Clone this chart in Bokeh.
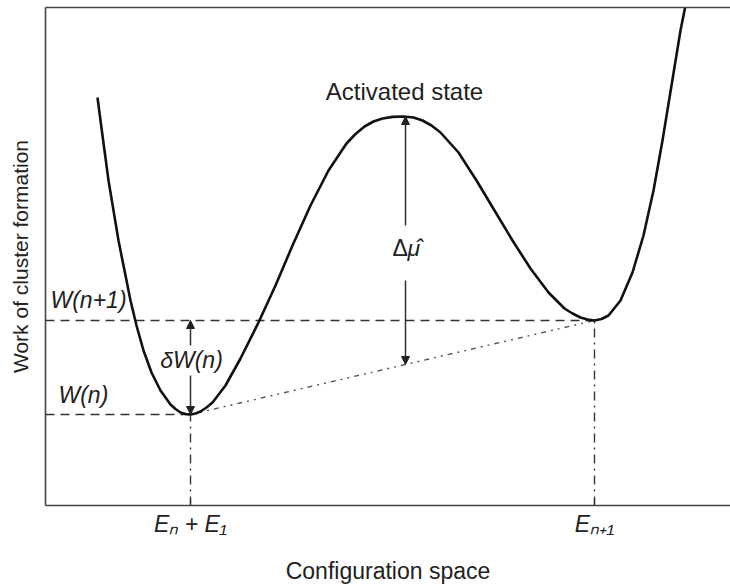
from bokeh.plotting import figure
from bokeh.models import (Arrow, NormalHead, Label, LinearAxis, FixedTicker,
                          Range1d, ColumnDataSource)
from bokeh.embed import file_html
from bokeh.resources import INLINE

# ---- data (arbitrary units) ----
config_x = [52, 55, 59, 63, 68, 73, 79, 85, 91, 98, 106, 115, 125, 130, 135, 140,
            145, 150, 155, 161, 167, 180, 195, 213, 230, 247, 265, 283, 301, 310,
            319, 328, 337, 347, 358, 368, 377, 386, 395, 413, 431, 449, 467, 485,
            503, 519, 527, 535, 542, 549, 556, 563, 575, 587, 598, 608, 617, 626,
            635, 641]
work_y = [408, 385, 355, 325, 295, 265, 235, 205, 180, 155, 133, 115, 101, 96.5, 93,
          91.5, 91, 92, 94, 98, 103, 120, 147, 183, 220, 260, 300, 335, 362, 371.5,
          379, 384, 387, 388.6, 389, 388, 385, 380, 373, 353, 325, 295, 265, 237,
          213, 197, 192, 188, 186, 185, 186.5, 190, 205, 233, 270, 315, 365, 420,
          475, 505]

E_n1_x = 145      # position of first minimum (E_n + E_1)
W_n = 91          # W(n)
E_n2_x = 549      # position of second minimum (E_{n+1})
W_n1 = 185        # W(n+1)
peak_x = 360      # activated state position
peak_y = 389
x_max = 685
y_max = 498
tick_labels = {E_n1_x: "Eₙ + E₁", E_n2_x: "Eₙ₊₁"}

FONT = "Liberation Sans"

p = figure(width=730, height=588, output_backend="svg", toolbar_location=None,
           x_range=Range1d(0, x_max), y_range=Range1d(0, y_max),
           x_axis_type=None, y_axis_type=None,
           min_border_left=45, min_border_right=0, min_border_top=7,
           min_border_bottom=83)
p.outline_line_color = None
p.grid.visible = False
p.background_fill_color = "white"
p.border_fill_color = "white"

# axes
xaxis = LinearAxis(ticker=FixedTicker(ticks=[E_n1_x, E_n2_x]),
                   major_label_overrides=tick_labels,
                   major_tick_in=7, major_tick_out=0,
                   major_label_text_font=FONT,
                   major_label_text_font_size="23px",
                   major_label_text_font_style="italic",
                   major_label_text_color="#222222",
                   major_label_standoff=5,
                   minor_tick_line_color=None,
                   axis_line_color="#444444", axis_line_width=1.6,
                   major_tick_line_color="#333333", major_tick_line_width=1.3,
                   axis_label="Configuration space",
                   axis_label_text_font=FONT, axis_label_text_font_size="23px",
                   axis_label_text_font_style="normal",
                   axis_label_text_color="#222222",
                   axis_label_standoff=18)
p.add_layout(xaxis, "below")

yaxis = LinearAxis(ticker=FixedTicker(ticks=[]),
                   major_label_text_font_size="0px", major_label_standoff=0,
                   major_tick_line_color=None, minor_tick_line_color=None,
                   axis_line_color="#444444", axis_line_width=1.6,
                   axis_label="Work of cluster formation",
                   axis_label_text_font=FONT, axis_label_text_font_size="21px",
                   axis_label_text_font_style="normal",
                   axis_label_text_color="#222222",
                   axis_label_standoff=14)
p.add_layout(yaxis, "left")

top_axis = LinearAxis(ticker=FixedTicker(ticks=[]),
                      major_label_text_font_size="0px", major_label_standoff=0,
                      major_tick_line_color=None, minor_tick_line_color=None,
                      axis_line_color="#444444", axis_line_width=1.6)
p.add_layout(top_axis, "above")

# dashed reference levels
p.line([0, E_n2_x], [W_n1, W_n1], line_color="#333333", line_width=1.6,
       line_dash="9 6")
p.line([0, E_n1_x], [W_n, W_n], line_color="#333333", line_width=1.6,
       line_dash="9 6")
# dash-dot verticals
p.line([E_n1_x, E_n1_x], [0, W_n], line_color="#333333", line_width=1.4,
       line_dash="9 5 2 5")
p.line([E_n2_x, E_n2_x], [0, W_n1], line_color="#333333", line_width=1.4,
       line_dash="9 5 2 5")
# dash-dot-dot sloped line
p.line([E_n1_x, E_n2_x], [W_n, W_n1], line_color="#555555", line_width=1.4,
       line_dash="5 5 2 5 2 5")

# main curve
src = ColumnDataSource(dict(x=config_x, y=work_y))
p.line("x", "y", source=src, line_color="#111111", line_width=2.6,
       line_join="round")

# arrows
def arrow(x0, y0, x1, y1):
    p.add_layout(Arrow(end=NormalHead(size=8, fill_color="#222222",
                                      line_color="#222222"),
                       x_start=x0, y_start=y0, x_end=x1, y_end=y1,
                       line_color="#333333", line_width=1.5))

arrow(E_n1_x, 160, E_n1_x, W_n1)
arrow(E_n1_x, 130, E_n1_x, W_n)
slope_y = W_n + (peak_x - E_n1_x) * (W_n1 - W_n) / (E_n2_x - E_n1_x)
arrow(peak_x, 280, peak_x, peak_y)
arrow(peak_x, 225, peak_x, slope_y)

def lab(x, y, text, size=23, style="italic", align="left"):
    p.add_layout(Label(x=x, y=y, text=text,
                       text_font=FONT, text_font_size=f"{size}px",
                       text_font_style=style, text_align=align,
                       text_baseline="alphabetic", text_color="#222222"))

lab(peak_x - 1, 414, "Activated state", size=24, style="normal", align="center")
lab(5, 206, "W(n+1)")
lab(13, 111, "W(n)")
lab(E_n1_x + 1, 146, "δW(n)", align="center")
lab(peak_x - 13, 258, "Δ", style="normal")
lab(peak_x + 2, 258, "μ̂")

open("out.html", "w").write(file_html(p, INLINE))
